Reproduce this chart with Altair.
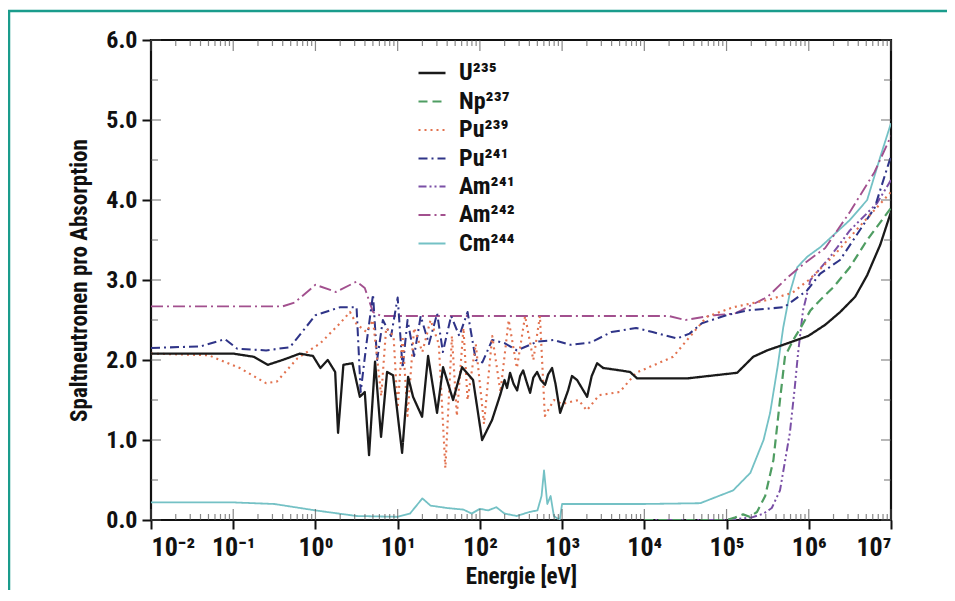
import altair as alt
import pandas as pd

# ---------------- data (x = log10 of energy in eV, y = neutrons per absorption) -------------
isotopes = ["U²³⁵", "Np²³⁷", "Pu²³⁹", "Pu²⁴¹", "Am²⁴¹", "Am²⁴²", "Cm²⁴⁴"]
colors = ["#1a1a1a", "#4f9d62", "#e2724f", "#2f3488", "#7a4fa6", "#a2508e", "#74c1c5"]
dashes = [[1, 0], [9, 5], [2, 4], [9, 4, 2, 4], [8, 3, 2, 3, 2, 3], [12, 4, 2, 4], [1, 0]]
widths = [2.3, 1.8, 1.9, 1.8, 1.8, 1.8, 1.8]

u235_lg = [-2, -1.0, -0.75, -0.58, -0.4, -0.19, -0.03, 0.06, 0.15, 0.24, 0.275, 0.34, 0.45,
           0.54, 0.6, 0.652, 0.725, 0.798, 0.871, 0.944, 1.054, 1.127, 1.187, 1.297, 1.37,
           1.479, 1.552, 1.674, 1.783, 1.917, 2.027, 2.148, 2.246, 2.30, 2.33, 2.367, 2.41,
           2.453, 2.49, 2.526, 2.57, 2.611, 2.65, 2.696, 2.74, 2.793, 2.83, 2.878, 2.92,
           2.976, 3.073, 3.12, 3.182, 3.24, 3.304, 3.36, 3.426, 3.5, 3.706, 3.827,
           3.912, 4.521, 5.129, 5.324, 5.494, 5.689, 5.993, 6.2, 6.382, 6.564, 6.71, 6.869, 7.0]
u235_v = [2.08, 2.08, 2.04, 1.94, 2.0, 2.08, 2.05, 1.9, 2.0, 1.85, 1.09, 1.94, 1.96,
          1.54, 1.6, 0.81, 1.98, 1.04, 1.85, 1.81, 0.84, 1.79, 1.54, 1.29, 2.05,
          1.34, 1.91, 1.5, 1.91, 1.75, 1.0, 1.25, 1.56, 1.75, 1.65, 1.84, 1.7,
          1.62, 1.8, 1.87, 1.72, 1.59, 1.78, 1.85, 1.75, 1.69, 1.82, 1.9, 1.7,
          1.34, 1.62, 1.8, 1.75, 1.65, 1.54, 1.8, 1.96, 1.9, 1.87, 1.85,
          1.77, 1.77, 1.84, 2.04, 2.12, 2.19, 2.3, 2.44, 2.6, 2.79, 3.06, 3.44, 3.85]

np237_lg = [4.0, 5.0, 5.1, 5.2, 5.28, 5.37, 5.47, 5.57, 5.65, 5.71, 5.81, 5.9, 6.02, 6.14,
            6.3, 6.5, 6.71, 7.0]
np237_v = [0.0, 0.0, 0.03, 0.07, 0.04, 0.1, 0.3, 0.75, 1.5, 2.04, 2.25, 2.4, 2.62, 2.75,
           2.91, 3.16, 3.5, 3.9]

pu239_lg = [-2, -1.3, -0.92, -0.6, -0.47, -0.22, 0.06, 0.3, 0.42, 0.5, 0.62, 0.7, 0.8, 0.86,
            0.95, 1.0, 1.06, 1.12, 1.2, 1.3, 1.4, 1.5, 1.58, 1.66, 1.72, 1.8, 1.85, 1.95,
            2.05, 2.15, 2.25, 2.35, 2.45, 2.55, 2.65, 2.73, 2.79, 2.9, 3.0, 3.2, 3.3, 3.45,
            3.7, 3.9, 4.35, 4.52, 4.76, 5.08, 5.5, 5.8, 6.0, 6.3, 6.6, 7.0]
pu239_v = [2.08, 2.06, 1.9, 1.71, 1.73, 2.02, 2.21, 2.46, 2.6, 2.45, 2.35, 2.5, 1.55, 2.4,
           2.3, 1.4, 2.3, 1.3, 2.4, 2.1, 2.5, 2.2, 0.65, 2.3, 1.3, 2.4, 1.5, 2.2,
           1.2, 2.3, 1.6, 2.5, 1.9, 2.55, 2.0, 2.55, 1.3, 1.5, 1.45, 1.5, 1.37, 1.56,
           1.6, 1.84, 2.04, 2.25, 2.54, 2.66, 2.75, 2.84, 3.0, 3.3, 3.65, 4.1]

pu241_lg = [-2, -1.4, -1.1, -0.95, -0.6, -0.31, 0.0, 0.3, 0.5, 0.55, 0.62, 0.7, 0.75, 0.82,
            0.92, 1.0, 1.06, 1.12, 1.2, 1.28, 1.38, 1.48, 1.55, 1.65, 1.75, 1.85, 1.95,
            2.03, 2.15, 2.3, 2.45, 2.7, 2.9, 3.1, 3.35, 3.6, 3.9, 4.1, 4.4, 4.55, 4.7, 5.0,
            5.25, 5.7, 5.98, 6.14, 6.38, 6.8, 7.0]
pu241_v = [2.15, 2.17, 2.26, 2.14, 2.12, 2.16, 2.56, 2.66, 2.66, 1.6, 2.2, 2.82, 2.0, 2.5,
           2.3, 2.78, 1.9, 2.5, 2.05, 2.55, 2.2, 2.58, 2.1, 2.55, 2.3, 2.6, 2.0,
           1.97, 2.25, 2.21, 2.12, 2.23, 2.25, 2.19, 2.22, 2.35, 2.4, 2.35, 2.27, 2.33, 2.46, 2.56,
           2.62, 2.66, 2.87, 3.08, 3.25, 3.9, 4.55]

am241_lg = [4.0, 5.0, 5.3, 5.45, 5.55, 5.65, 5.77, 5.83, 5.87, 5.93, 6.02, 6.26, 6.5, 6.83, 7.0]
am241_v = [0.0, 0.0, 0.03, 0.08, 0.15, 0.37, 1.09, 1.66, 2.09, 2.62, 3.0, 3.29, 3.62, 3.96, 4.25]

am242_lg = [-2, -0.4, -0.25, 0.0, 0.25, 0.5, 0.6, 0.7, 0.8, 2.0, 3.0, 4.3, 4.5, 4.85, 5.1,
            5.5, 5.75, 5.95, 6.2, 6.5, 6.8, 7.0]
am242_v = [2.67, 2.67, 2.72, 2.94, 2.85, 2.98, 2.9, 2.6, 2.55, 2.55, 2.55, 2.55, 2.5, 2.56, 2.58,
           2.79, 3.04, 3.21, 3.4, 3.85, 4.35, 4.8]

cm244_lg = [-2, -1.0, -0.5, 0.0, 0.5, 1.0, 1.15, 1.3, 1.4, 1.6, 1.8, 1.9, 2.0, 2.1, 2.2, 2.3,
            2.45, 2.6, 2.7, 2.75, 2.78, 2.82, 2.86, 2.9, 2.97, 3.0, 4.0, 4.68, 5.08, 5.29,
            5.45, 5.53, 5.62, 5.69, 5.77, 5.86, 5.98, 6.14, 6.5, 6.71, 6.87, 7.0]
cm244_v = [0.22, 0.22, 0.2, 0.12, 0.05, 0.04, 0.08, 0.27, 0.18, 0.15, 0.13, 0.08, 0.14, 0.12,
           0.16, 0.08, 0.05, 0.1, 0.12, 0.3, 0.62, 0.2, 0.3, 0.05, 0.0, 0.2, 0.2, 0.21, 0.37,
           0.59, 1.0, 1.34, 1.91, 2.41, 2.84, 3.16, 3.29, 3.41, 3.75, 4.0, 4.54, 4.96]

x_tick_exp = [-2, -1, 0, 1, 2, 3, 4, 5, 6, 7]
x_tick_labels = ["10⁻²", "10⁻¹", "10⁰", "10¹", "10²", "10³", "10⁴", "10⁵", "10⁶", "10⁷"]
y_ticks = [0, 1, 2, 3, 4, 5, 6]
x_title = "Energie [eV]"
y_title = "Spaltneutronen pro Absorption"

# ---------------- assemble ----------------
series = [
    ("Cm²⁴⁴", cm244_lg, cm244_v),
    ("Am²⁴²", am242_lg, am242_v),
    ("Am²⁴¹", am241_lg, am241_v),
    ("Np²³⁷", np237_lg, np237_v),
    ("Pu²⁴¹", pu241_lg, pu241_v),
    ("Pu²³⁹", pu239_lg, pu239_v),
    ("U²³⁵", u235_lg, u235_v),
]
rows = []
for order, (name, xs, ys) in enumerate(series):
    for x, y in zip(xs, ys):
        rows.append({"iso": name, "E": 10.0 ** x, "v": y, "o": order})
df = pd.DataFrame(rows)

major_x = [10.0 ** e for e in x_tick_exp]
minor_x = [k * 10.0 ** d for d in x_tick_exp[:-1] for k in range(2, 10)]
minor_y = [0.5, 1.5, 2.5, 3.5, 4.5, 5.5]

FONT = "Roboto Condensed, Noto Sans Condensed, Liberation Sans Narrow, DejaVu Sans Condensed, Roboto, sans-serif"
W, H = 740, 480

xscale = alt.Scale(type="log", domain=[1e-2, 1e7], nice=False)
yscale = alt.Scale(domain=[0, 6], nice=False, zero=False)

label_expr = ""
for e, lab in zip(x_tick_exp, x_tick_labels):
    label_expr += f"round(log(datum.value)/LN10) == {e} ? '{lab}' : "
label_expr += "''"

legend = alt.Legend(
    title=None, orient="none", legendX=266, legendY=18, padding=0,
    labelFont=FONT, labelFontSize=24, labelFontWeight="bold", labelColor="#111",
    symbolType="stroke", symbolSize=729, symbolStrokeWidth=2.2, labelOffset=12,
    rowPadding=1.5, labelLimit=0,
)

lines = alt.Chart(df).mark_line(clip=True, strokeJoin="round").encode(
    x=alt.X("E:Q", scale=xscale, title=x_title,
            axis=alt.Axis(values=major_x, labelExpr=label_expr,
                          tickSize=9, tickWidth=2, tickColor="#111", labelPadding=5,
                          labelFontSize=26, titleFontSize=23, titlePadding=5,
                          domain=False, grid=False)),
    y=alt.Y("v:Q", scale=yscale, title=y_title,
            axis=alt.Axis(values=y_ticks, format=".1f",
                          tickSize=9, tickWidth=2, tickColor="#111", labelPadding=5,
                          labelFontSize=24, titleFontSize=23, titlePadding=14,
                          domain=False, grid=False)),
    color=alt.Color("iso:N", scale=alt.Scale(domain=isotopes, range=colors), legend=legend),
    strokeDash=alt.StrokeDash("iso:N", scale=alt.Scale(domain=isotopes, range=dashes), legend=legend),
    strokeWidth=alt.StrokeWidth("iso:N", scale=alt.Scale(domain=isotopes, range=widths), legend=None),
    order=alt.Order("o:Q"),
    detail="iso:N",
)

tick_color = "#555"


def xticks(values, ydat, size, offset):
    return alt.Chart(pd.DataFrame({"E": values})).mark_tick(
        orient="vertical", size=size, thickness=1.2, color=tick_color, yOffset=offset
    ).encode(x=alt.X("E:Q", scale=xscale, title=x_title),
             y=alt.YDatum(ydat, title=y_title))


def yticks(values, xdat, size, offset):
    return alt.Chart(pd.DataFrame({"v": values})).mark_tick(
        orient="horizontal", size=size, thickness=1.2, color=tick_color, xOffset=offset
    ).encode(y=alt.Y("v:Q", scale=yscale, title=y_title),
             x=alt.XDatum(xdat, title=x_title))


ticks = [
    xticks(minor_x, 0, 6, -3), xticks(major_x, 0, 11, -5.5),
    xticks(minor_x, 6, 6, 3), xticks(major_x, 6, 11, 5.5),
    yticks(minor_y, 1e-2, 7, 3.5), yticks(y_ticks, 1e-2, 10, 5),
    yticks(minor_y, 1e7, 7, -3.5), yticks(y_ticks, 1e7, 10, -5),
]

frame = alt.Chart(pd.DataFrame({"a": [0]})).mark_rect(
    filled=False, stroke="#1a9c8c", strokeWidth=2.5
).encode(x=alt.value(-142), x2=alt.value(1000), y=alt.value(-29), y2=alt.value(700))

chart = alt.layer(lines, *ticks, frame).properties(
    width=W, height=H,
    autosize=alt.AutoSizeParams(type="none"),
    padding={"left": 143, "top": 32, "right": 56, "bottom": 70},
).configure(
    font=FONT, background="white",
).configure_axis(
    labelFont=FONT, titleFont=FONT, labelFontWeight="bold", titleFontWeight="bold",
    labelColor="#111", titleColor="#111",
).configure_view(
    stroke="#111", strokeWidth=2.2,
)

chart.save("out.html", embed_options={"renderer": "svg", "actions": False})
